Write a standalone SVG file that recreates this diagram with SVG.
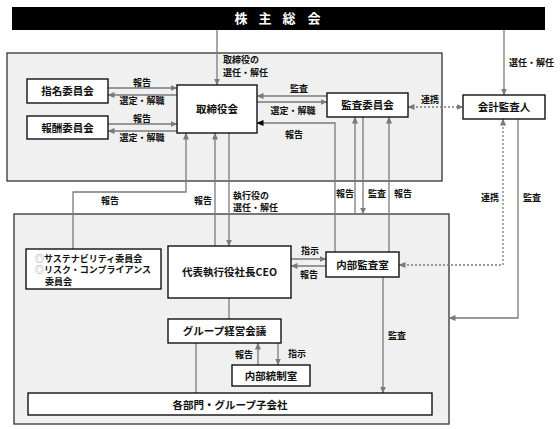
<svg xmlns="http://www.w3.org/2000/svg" width="560" height="429" viewBox="0 0 560 429">
<defs>
<marker id="ah" markerWidth="7" markerHeight="6" refX="6.5" refY="3" orient="auto-start-reverse" markerUnits="userSpaceOnUse"><path d="M0,0 L7,3 L0,6 Z" fill="#7a7a7a"/></marker>
<marker id="ahb" markerWidth="7" markerHeight="6" refX="6.5" refY="3" orient="auto-start-reverse" markerUnits="userSpaceOnUse"><path d="M0,0 L7,3 L0,6 Z" fill="#000"/></marker>
<style>
text{font-family:"Noto Sans CJK JP","Noto Sans",sans-serif;font-weight:700;fill:#111}
.panel{fill:#f0f0f0;stroke:#333;stroke-width:1.3}
.box{fill:#fff;stroke:#111;stroke-width:1.4}
.nl{font-size:10.5px;text-anchor:middle}
.lb{font-size:9px}
.c{text-anchor:middle}
.ln{fill:none;stroke:#7a7a7a;stroke-width:1.3}
.a{marker-end:url(#ah)}
.dot{stroke-dasharray:2 2}
.mk{fill:#a8a8a8}
</style>
</defs>
<rect x="12" y="7" width="533" height="23" fill="#000"/>
<text x="241 265 289 314" y="23" font-size="13" style="fill:#fff" text-anchor="middle">株主総会</text>
<rect class="panel" x="7" y="53" width="435" height="128"/>
<rect class="panel" x="14" y="214" width="435" height="210"/>
<g id="connectors">
<path class="ln a" d="M217,30 V85"/>
<path class="ln a" d="M504,30 V95"/>
<path class="ln a" d="M108,88 H177"/>
<path class="ln a" d="M177,95 H108"/>
<path class="ln a" d="M108,124 H177"/>
<path class="ln a" d="M177,131 H108"/>
<path class="ln a" d="M327,96 H257"/>
<path class="ln a" d="M257,102 H327"/>
<path class="ln dot" d="M408,107 H463" marker-start="url(#ah)" marker-end="url(#ah)"/>
<path class="ln" d="M335,252 V123 H257" marker-end="url(#ahb)"/>
<path class="ln a" d="M355,214 V117"/>
<path class="ln a" d="M363,117 V214"/>
<path class="ln a" d="M389,252 V117"/>
<path class="ln a" d="M73,249 V192 H186 V133"/>
<path class="ln a" d="M215,246 V133"/>
<path class="ln a" d="M229,133 V246"/>
<path class="ln a" d="M291,259 H326"/>
<path class="ln a" d="M326,266 H291"/>
<path class="ln dot" d="M503,119 V265 H399" marker-start="url(#ah)" marker-end="url(#ah)"/>
<path class="ln a" d="M518,119 V318 H449"/>
<path class="ln" d="M229,298 V319"/>
<path class="ln" d="M196,343 V393"/>
<path class="ln a" d="M258,365 V343"/>
<path class="ln a" d="M278,343 V365"/>
<path class="ln a" d="M383,277 V393"/>
</g>
<g id="labels">
<text class="lb c" x="142" y="86">報告</text>
<text class="lb c" x="142" y="104">選定・解職</text>
<text class="lb c" x="142" y="122">報告</text>
<text class="lb c" x="142" y="141">選定・解職</text>
<text class="lb" x="223" y="63">取締役の</text>
<text class="lb" x="223" y="76">選任・解任</text>
<text class="lb" x="509" y="66">選任・解任</text>
<text class="lb c" x="299" y="92">監査</text>
<text class="lb c" x="293" y="114">選定・解職</text>
<text class="lb c" x="294" y="138">報告</text>
<text class="lb c" x="430" y="103">連携</text>
<text class="lb c" x="110" y="204">報告</text>
<text class="lb c" x="203" y="204">報告</text>
<text class="lb" x="233" y="199">執行役の</text>
<text class="lb" x="233" y="211">選任・解任</text>
<text class="lb c" x="345" y="197">報告</text>
<text class="lb c" x="377" y="197">監査</text>
<text class="lb c" x="403" y="197">報告</text>
<text class="lb c" x="490" y="201">連携</text>
<text class="lb c" x="532" y="201">監査</text>
<text class="lb c" x="310" y="254">指示</text>
<text class="lb c" x="309" y="278">報告</text>
<text class="lb c" x="244" y="358">報告</text>
<text class="lb c" x="297" y="357">指示</text>
<text class="lb c" x="397" y="339">監査</text>
</g>
<g id="n-shimei"><rect class="box" x="27" y="79" width="81" height="24"/><text class="nl" x="67.5" y="95">指名委員会</text></g>
<g id="n-houshu"><rect class="box" x="27" y="116" width="81" height="23"/><text class="nl" x="67.5" y="131.5">報酬委員会</text></g>
<g id="n-torishimari"><rect class="box" x="177" y="85" width="80" height="48"/><text class="nl" x="217" y="113">取締役会</text></g>
<g id="n-kansaiin"><rect class="box" x="327" y="93" width="81" height="24"/><text class="nl" x="367.5" y="109">監査委員会</text></g>
<g id="n-kaikei"><rect class="box" x="463" y="95" width="82" height="24"/><text class="nl" x="504" y="111">会計監査人</text></g>
<g id="n-sustain"><rect class="box" x="26" y="249" width="135" height="40"/>
<text class="lb" x="35" y="261.5"><tspan class="mk">◎</tspan>サステナビリティ委員会</text>
<text class="lb" x="35" y="273"><tspan class="mk">◎</tspan>リスク・コンプライアンス</text>
<text class="lb" x="45" y="284.5">委員会</text></g>
<g id="n-ceo"><rect class="box" x="168" y="246" width="123" height="52"/><text class="nl" x="229.5" y="276" font-size="11">代表執行役社長CEO</text></g>
<g id="n-naibukansa"><rect class="box" x="326" y="252" width="73" height="25"/><text class="nl" x="362.5" y="268.5">内部監査室</text></g>
<g id="n-group"><rect class="box" x="168" y="319" width="113" height="24"/><text class="nl" x="224.5" y="335">グループ経営会議</text></g>
<g id="n-naibutousei"><rect class="box" x="232" y="365" width="78" height="21"/><text class="nl" x="271" y="379.5">内部統制室</text></g>
<g id="n-kakubumon"><rect class="box" x="28" y="393" width="404" height="22"/><text class="nl" x="230" y="408.5" font-size="11">各部門・グループ子会社</text></g>
</svg>
